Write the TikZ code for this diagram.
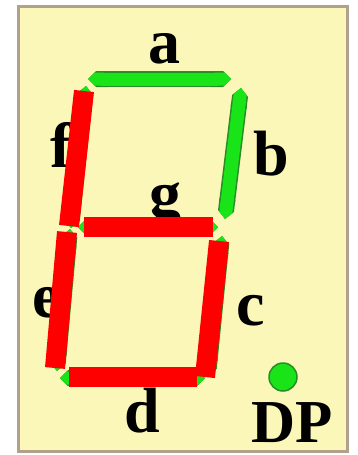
\documentclass[tikz,border=0pt]{standalone}
\usepackage{fontspec}
\setmainfont{Liberation Serif}
\usepackage{xcolor}
\usetikzlibrary{arrows.meta, calc}

\definecolor{panel}{RGB}{251,247,184}
\definecolor{rim}{RGB}{176,160,140}
\definecolor{segon}{RGB}{24,228,24}
\definecolor{segedge}{RGB}{40,140,40}
\definecolor{segred}{RGB}{255,0,0}

\tikzset{
	lbl/.style={font=\bfseries\fontsize{64}{64}\selectfont, inner sep=0pt, anchor=base},
	redbar/.style={segred, line width=20pt},
}
\newcommand{\greenseg}[2]{%
	\draw[segedge, line width=16pt, {Triangle Cap}-{Triangle Cap}] (#1) -- (#2);
	\draw[segon, line width=13pt, {Triangle Cap}-{Triangle Cap}] (#1) -- (#2);}

\begin{document}
\begin{tikzpicture}[x=1pt, y=-1pt]
			\useasboundingbox (0,0) rectangle (358,455);
			\draw[rim, line width=3pt, fill=panel] (18,6) rectangle (347,451);
			% labels
			\node[lbl] (la) at (164,63) {a};
			\node[lbl] (lb) at (271,175) {b};
			\node[lbl] (lc) at (251,325) {c};
			\node[lbl] (ld) at (142,432) {d};
			\node[lbl] (le) at (47,317) {e};
			\node[lbl] (lf) at (61,167) {f};
			\node[lbl] (lg) at (165,215) {g};
			\node[lbl, font=\bfseries\fontsize{61}{61}\selectfont] (ldp) at (292,442) {DP};
			% segment ends
			\coordinate (a1) at (88,79);   \coordinate (a2) at (231,79);
			\coordinate (b1) at (241,88);  \coordinate (b2) at (225,219);
			\coordinate (c1) at (222,236); \coordinate (c2) at (208,376);
			\coordinate (d1) at (60,378);  \coordinate (d2) at (205,378);
			\coordinate (e1) at (70,229);  \coordinate (e2) at (57,371);
			\coordinate (f1) at (86,86);   \coordinate (f2) at (71,228);
			\coordinate (g1) at (78,227);  \coordinate (g2) at (218,227);
			\greenseg{a1}{a2}
			\greenseg{b1}{b2}
			\greenseg{c1}{c2}
			\greenseg{d1}{d2}
			\greenseg{e1}{e2}
			\greenseg{f1}{f2}
			\greenseg{g1}{g2}
			% lit segments
			\draw[redbar] (84,91) -- (69,226);
			\draw[redbar] (84,227) -- (213,227);
			\draw[redbar] (67,232) -- (55,368);
			\draw[redbar] (219,241) -- (205,377);
			\draw[redbar] (69,376.5) -- (197,376.5);
			\filldraw[fill=segon, draw=segedge, line width=1.5pt] (283,377) circle (14pt);
		\end{tikzpicture}
\end{document}
